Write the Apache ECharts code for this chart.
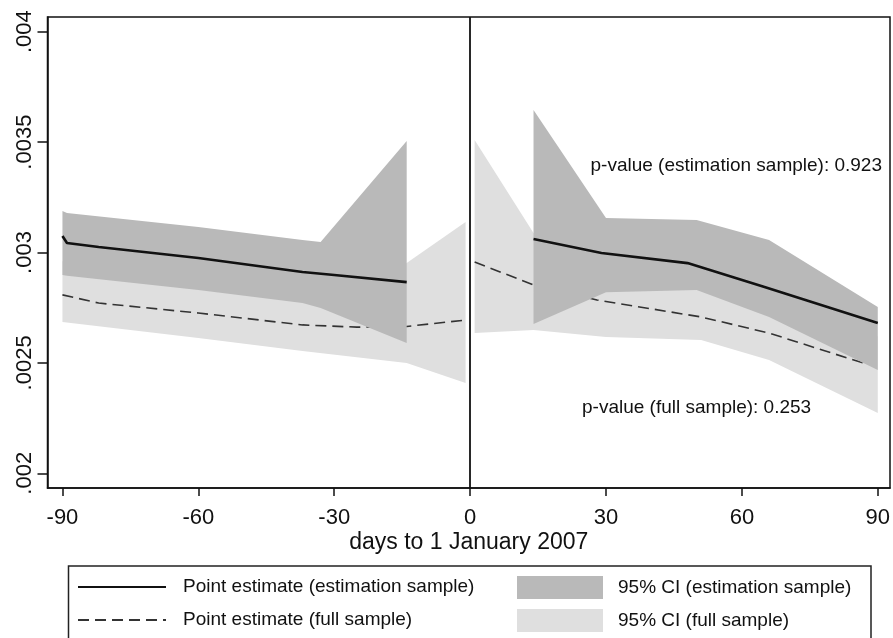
<!DOCTYPE html>
<html><head><meta charset="utf-8">
<script src="https://cdn.jsdelivr.net/npm/echarts@6/dist/echarts.min.js"></script>
<style>html,body{margin:0;padding:0;background:#fff}#c{width:893px;height:638px}</style>
</head><body><div id="c"></div>
<script>
// ---- tick labels ----
const xTicks = [-90, -60, -30, 0, 30, 60, 90];
const yTicks = [0.002, 0.0025, 0.003, 0.0035, 0.004];

// ---- point estimate (estimation sample) ----
const estLeftX  = [-90, -89, -82, -60, -37, -30, -14];
const estLeftY  = [0.003075, 0.003043, 0.003025, 0.002975, 0.002912, 0.002898, 0.002866];
const estRightX = [14, 29, 48, 65, 90];
const estRightY = [0.003061, 0.002998, 0.002952, 0.002844, 0.002681];

// ---- point estimate (full sample) ----
const fullLeftX  = [-90, -82, -60, -37, -25, -14, -1];
const fullLeftY  = [0.002808, 0.002771, 0.002726, 0.002672, 0.002662, 0.002665, 0.002694];
const fullRightX = [1, 14, 28, 51, 66, 87];
const fullRightY = [0.002957, 0.002853, 0.002785, 0.002708, 0.002635, 0.002498];

// ---- 95% CI (estimation sample) ----
const ciEstLeftX  = [-90, -89, -60, -37, -33, -14];
const ciEstLeftLo = [0.002898, 0.002895, 0.00283, 0.002771, 0.002749, 0.00259];
const ciEstLeftHi = [0.003188, 0.003179, 0.003115, 0.003057, 0.003048, 0.003505];
const ciEstRightX  = [14, 30, 50, 66, 90];
const ciEstRightLo = [0.002676, 0.00282, 0.00283, 0.002708, 0.002468];
const ciEstRightHi = [0.003645, 0.003156, 0.003147, 0.003057, 0.002753];

// ---- 95% CI (full sample) ----
const ciFullLeftX  = [-90, -60, -37, -14, -1];
const ciFullLeftLo = [0.002685, 0.002613, 0.002554, 0.0025, 0.002409];
const ciFullLeftHi = [0.00296, 0.00292, 0.00289, 0.002952, 0.003138];
const ciFullRightX  = [1, 14, 30, 51, 66, 90];
const ciFullRightLo = [0.002635, 0.002649, 0.002617, 0.002604, 0.002513, 0.002273];
const ciFullRightHi = [0.00351, 0.003088, 0.00297, 0.00295, 0.00288, 0.00262];

const names = {
  est: 'Point estimate (estimation sample)',
  full: 'Point estimate (full sample)',
  ciEst: '95% CI (estimation sample)',
  ciFull: '95% CI (full sample)'
};
const FONT = "'Liberation Sans', Arial, sans-serif";
const DARK = '#b9b9b9', LIGHT = '#dfdfdf';

function band(name, xs, lo, hi, color, z) {
  const data = xs.map((x, i) => [x, lo[i], hi[i]]);
  return {
    type: 'custom', name, z, silent: true, animation: false,
    itemStyle: { color },
    data,
    encode: { x: 0, y: [1, 2] },
    renderItem: (params, api) => {
      if (params.dataIndex !== 0) return null;
      const top = data.map(d => api.coord([d[0], d[2]]));
      const bot = data.map(d => api.coord([d[0], d[1]])).reverse();
      return { type: 'polygon', shape: { points: top.concat(bot) }, style: { fill: color } };
    }
  };
}
function line(name, xs, ys, lineStyle, z, extra) {
  return Object.assign({
    type: 'line', name, z, silent: true, animation: false,
    data: xs.map((x, i) => [x, ys[i]]),
    symbol: 'none', showSymbol: false, lineStyle,
    itemStyle: { color: lineStyle.color }
  }, extra || {});
}

const solid = { color: '#111', width: 2.6, type: 'solid' };
const dashed = { color: '#333', width: 1.6, type: [11, 6] };

const chart = echarts.init(document.getElementById('c'), null, { renderer: 'canvas' });
chart.setOption({
  backgroundColor: '#fff',
  animation: false,
  grid: { left: 47.5, right: 3, top: 17, bottom: 150, show: true, borderColor: '#111', borderWidth: 1.5, outerBoundsMode: 'none' },
  xAxis: {
    type: 'value', min: -93.3, max: 92.7,
    splitLine: { show: false },
    axisLine: { show: true, onZero: false, lineStyle: { color: '#111', width: 1.5 } },
    axisTick: { show: true, customValues: xTicks, length: 8, lineStyle: { color: '#111', width: 1.5 } },
    axisLabel: { customValues: xTicks, fontSize: 22, fontFamily: FONT, color: '#111', margin: 19 },
    name: 'days to 1 January 2007', nameLocation: 'middle', nameGap: 43, nameMoveOverlap: false,
    nameTextStyle: { fontSize: 23, fontFamily: FONT, color: '#111' }
  },
  yAxis: {
    type: 'value', min: 0.0019334, max: 0.0040666,
    splitLine: { show: false },
    axisLine: { show: true, onZero: false, lineStyle: { color: '#111', width: 1.5 } },
    axisTick: { show: true, customValues: yTicks, length: 10, lineStyle: { color: '#111', width: 1.5 } },
    axisLabel: { customValues: yTicks, rotate: 90, fontSize: 22, fontFamily: FONT, color: '#111', margin: 12,
      formatter: v => String(v).replace(/^0\./, '.') }
  },
  legend: [
    { left: 77, top: 577.5, orient: 'vertical', padding: 0, itemWidth: 88, itemHeight: 23, itemGap: 14,
      selectedMode: false, data: [names.est, names.full],
      itemStyle: { opacity: 0 },
      textStyle: { fontSize: 19, fontFamily: FONT, color: '#111', padding: [0, 0, 0, 12] } },
    { left: 517, top: 576, orient: 'vertical', padding: 0, itemWidth: 86, itemHeight: 23, itemGap: 10,
      selectedMode: false,
      data: [{ name: names.ciEst, icon: 'rect' }, { name: names.ciFull, icon: 'rect' }],
      textStyle: { fontSize: 19, fontFamily: FONT, color: '#111', padding: [0, 0, 0, 10] } }
  ],
  graphic: [
    { type: 'rect', shape: { x: 68.5, y: 566, width: 802.5, height: 100 }, style: { fill: 'none', stroke: '#222', lineWidth: 1.5 }, z: 0 },
    { type: 'text', x: 882, y: 166, style: { text: 'p-value (estimation sample): 0.923', font: "19px 'Liberation Sans', Arial, sans-serif", fill: '#111', textAlign: 'right', textVerticalAlign: 'middle' } },
    { type: 'text', x: 582, y: 408, style: { text: 'p-value (full sample): 0.253', font: "19px 'Liberation Sans', Arial, sans-serif", fill: '#111', textAlign: 'left', textVerticalAlign: 'middle' } }
  ],
  series: [
    band(names.ciFull, ciFullLeftX, ciFullLeftLo, ciFullLeftHi, LIGHT, 1),
    band(names.ciFull, ciFullRightX, ciFullRightLo, ciFullRightHi, LIGHT, 1),
    line(names.full, fullLeftX, fullLeftY, dashed, 2),
    line(names.full, fullRightX, fullRightY, dashed, 2),
    band(names.ciEst, ciEstLeftX, ciEstLeftLo, ciEstLeftHi, DARK, 3),
    band(names.ciEst, ciEstRightX, ciEstRightLo, ciEstRightHi, DARK, 3),
    line(names.est, estLeftX, estLeftY, solid, 4, {
      markLine: { silent: true, symbol: 'none', animation: false, label: { show: false },
        lineStyle: { color: '#111', width: 1.8, type: 'solid' }, data: [{ xAxis: 0 }] }
    }),
    line(names.est, estRightX, estRightY, solid, 4)
  ]
});
</script></body></html>
